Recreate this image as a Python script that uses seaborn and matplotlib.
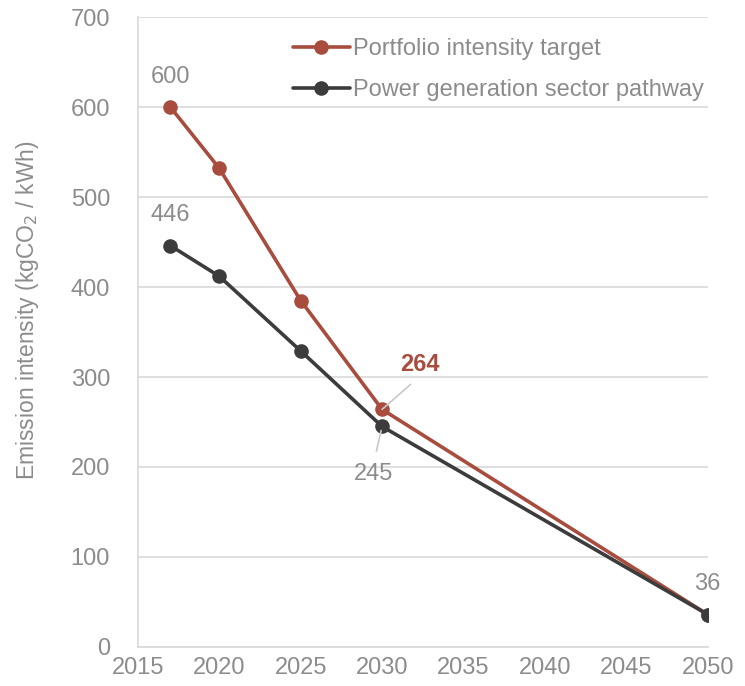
import matplotlib
matplotlib.use("Agg")
import matplotlib.pyplot as plt
import seaborn as sns
import pandas as pd

years = [2017, 2020, 2025, 2030, 2050]
portfolio = [600, 532, 385, 264, 36]
sector = [446, 412, 329, 245, 36]
series_names = ["Portfolio intensity target", "Power generation sector pathway"]

RED = "#A84D3E"
DARK = "#3C3C3C"
GREY = "#8C8C8C"

sns.set_style("white")
plt.rcParams["font.family"] = ["Liberation Sans", "DejaVu Sans"]

df = pd.DataFrame({
    "year": years * 2,
    "value": portfolio + sector,
    "series": [series_names[0]] * len(years) + [series_names[1]] * len(years),
})

fig = plt.figure(figsize=(7.45, 6.86), dpi=100)
ax = fig.add_axes([0.185, 0.057, 0.765, 0.918])

sns.lineplot(data=df, x="year", y="value", hue="series", hue_order=series_names,
             palette=[RED, DARK], marker="o", markersize=10.5, markeredgewidth=0,
             linewidth=2.6, ax=ax)

ax.set_xlim(2015, 2050)
ax.set_ylim(0, 700)
ax.set_xticks(range(2015, 2051, 5))
ax.set_yticks(range(0, 701, 100))
ax.grid(axis="y", color="#D9D9D9", linewidth=1.2)
ax.set_axisbelow(True)
for s in ["top", "right"]:
    ax.spines[s].set_visible(False)
for s in ["left", "bottom"]:
    ax.spines[s].set_color("#D9D9D9")
    ax.spines[s].set_linewidth(1.2)
fs = 17
ax.tick_params(axis="both", length=0, labelsize=fs, labelcolor=GREY)
ax.tick_params(axis="x", pad=7)
ax.tick_params(axis="y", pad=20)
ax.set_xlabel("")
ax.set_ylabel("Emission intensity (kgCO$_2$ / kWh)", fontsize=16.5, color=GREY)
ax.yaxis.set_label_coords(-0.17, 0.535)

leg = ax.legend(loc="upper right", bbox_to_anchor=(1.03, 1.0), frameon=False,
                fontsize=fs, handlelength=2.45, handletextpad=0.1, labelspacing=0.78)
for t in leg.get_texts():
    t.set_color(GREY)

ax.annotate(str(portfolio[0]), (years[0], portfolio[0]), xytext=(0, 22),
            textcoords="offset points", ha="center", va="center", fontsize=fs, color=GREY)
ax.annotate(str(sector[0]), (years[0], sector[0]), xytext=(0, 22),
            textcoords="offset points", ha="center", va="center", fontsize=fs, color=GREY)
ax.annotate(str(portfolio[3]), (years[3], portfolio[3]), xytext=(27, 32),
            textcoords="offset points", ha="center", va="center", fontsize=fs,
            color=RED, fontweight="bold",
            arrowprops=dict(arrowstyle="-", color="#C8C8C8", lw=1.2, relpos=(0.5, 0),
                            shrinkA=5, shrinkB=0))
ax.annotate(str(sector[3]), (years[3], sector[3]), xytext=(-6, -34),
            textcoords="offset points", ha="center", va="center", fontsize=fs, color=GREY,
            arrowprops=dict(arrowstyle="-", color="#C8C8C8", lw=1.2, relpos=(0.5, 1),
                            shrinkA=6, shrinkB=3))
ax.annotate(str(sector[4]), (years[4], sector[4]), xytext=(0, 22),
            textcoords="offset points", ha="center", va="center", fontsize=fs, color=GREY)

fig.savefig("out.png", dpi=100)
